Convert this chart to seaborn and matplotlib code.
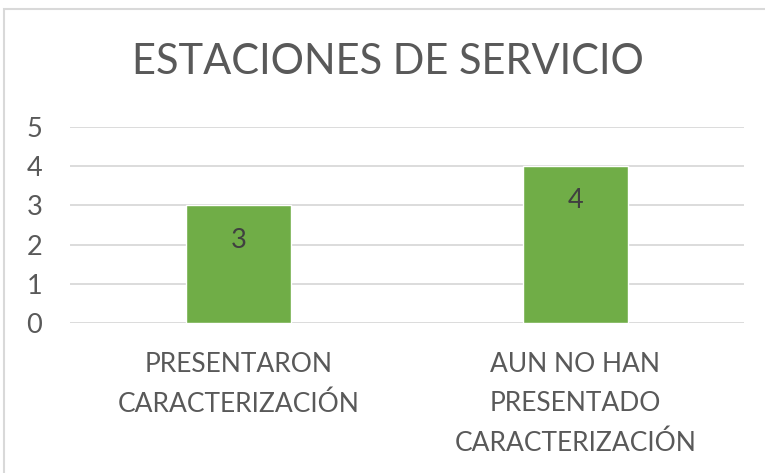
import matplotlib.pyplot as plt
import seaborn as sns
import pandas as pd
from matplotlib.patches import Rectangle

# datos del grafico
categorias = ["PRESENTARON\nCARACTERIZACIÓN", "AUN NO HAN\nPRESENTADO\nCARACTERIZACIÓN"]
valores = [3, 4]
titulo = "ESTACIONES DE SERVICIO"
yticks = [0, 1, 2, 3, 4, 5]

gris_texto = "#595959"
gris_linea = "#D9D9D9"
verde = "#70AD47"

sns.set_theme(style="white")
plt.rcParams['font.family'] = ['Lato', 'DejaVu Sans']

df = pd.DataFrame({"categoria": categorias, "valor": valores})

fig = plt.figure(figsize=(7.65, 4.73), dpi=100)
ax = fig.add_axes([70 / 765, 1 - 323 / 473, (744 - 70) / 765, (323 - 127) / 473])

sns.barplot(data=df, x="categoria", y="valor", color=verde, width=0.314,
            saturation=1, ax=ax, zorder=3)

ax.set_ylim(0, 5)
ax.set_yticks(yticks)
ax.set_xlim(-0.5, 1.5)
ax.yaxis.grid(True, color=gris_linea, linewidth=1.3, zorder=0)
ax.set_axisbelow(True)
for s in ax.spines.values():
    s.set_visible(False)
ax.tick_params(axis='y', length=0, pad=20, labelsize=19.5, labelcolor=gris_texto)
ax.tick_params(axis='x', length=0, pad=21, labelsize=19, labelcolor=gris_texto)
for lbl in ax.get_xticklabels():
    lbl.set_linespacing(1.7)
ax.set_xlabel("")
ax.set_ylabel("")

# etiquetas dentro de las barras
for i, v in enumerate(valores):
    ax.annotate(str(v), (i, v), xytext=(0, -25), textcoords="offset points",
                ha="center", va="center", fontsize=19.5, color="#404040")

fig.text(388 / 765, 1 - 62 / 473, titulo, ha="center", va="center",
         fontsize=30, color=gris_texto)

# borde del grafico
fig.patches.append(Rectangle((4 / 765, -0.1), 1.2, 1 - 9 / 473 + 0.1,
                             transform=fig.transFigure, fill=False,
                             edgecolor=gris_linea, linewidth=1.5))

fig.savefig("out.png", dpi=100)
